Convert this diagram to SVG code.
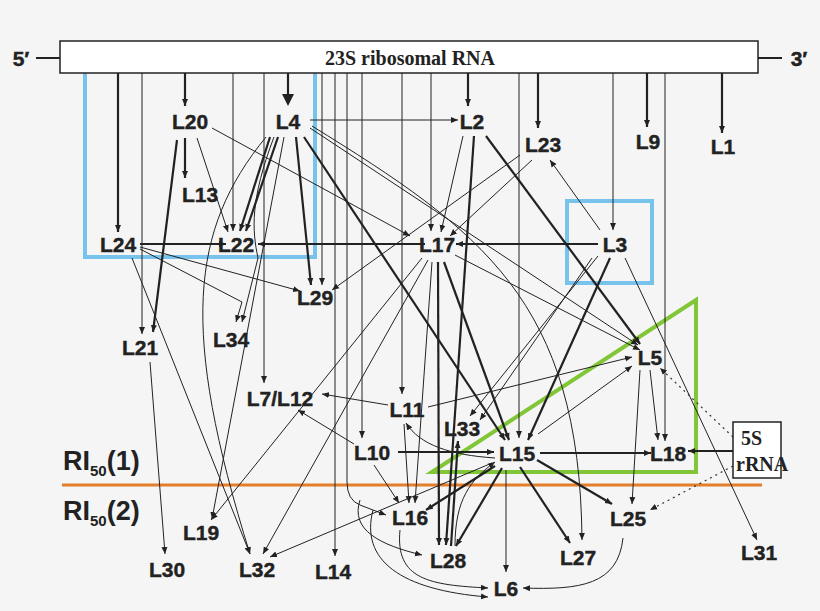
<svg xmlns="http://www.w3.org/2000/svg" width="820" height="611" viewBox="0 0 820 611">
<defs>
<marker id="a" markerWidth="8" markerHeight="8" refX="7" refY="4" orient="auto" markerUnits="userSpaceOnUse"><path d="M0,1 L7,4 L0,7 z" fill="#222"/></marker>
</defs>
<style>
text.n{font-family:"Liberation Sans",Arial,sans-serif;font-weight:bold;font-size:21px;fill:#222;text-anchor:middle;dominant-baseline:central;stroke:#222;stroke-width:0.4}
text.s{font-family:"Liberation Serif","Times New Roman",serif;font-weight:bold;font-size:20px;fill:#222}
.t{stroke:#222;stroke-width:1;fill:none;marker-end:url(#a)}
.k{stroke:#222;stroke-width:2.2;fill:none;marker-end:url(#a)}
.d{stroke:#333;stroke-width:1.2;stroke-dasharray:2 4;fill:none;marker-end:url(#a)}
</style>
<rect width="820" height="611" fill="#f5f5f5"/>
<g id="frames" fill="none">
<path d="M85,73 V257 H315 V73" stroke="#77c3ec" stroke-width="4"/>
<rect x="567" y="201" width="85" height="82" stroke="#77c3ec" stroke-width="4"/>
<path d="M432,472 L696,300 V472 Z" stroke="#80c636" stroke-width="4" stroke-linejoin="miter"/>
<line x1="62" y1="485" x2="762" y2="485" stroke="#e57e2a" stroke-width="3"/>
</g>
<g id="connectors">
<line class="k" x1="118" y1="73" x2="118" y2="232"/>
<line class="t" x1="142" y1="73" x2="142" y2="334"/>
<line class="k" x1="185" y1="73" x2="185" y2="106"/>
<line class="t" x1="233" y1="73" x2="233" y2="231"/>
<line class="t" x1="264" y1="73" x2="264" y2="383"/>
<line stroke="#222" stroke-width="2.2" x1="288" y1="73" x2="288" y2="95"/><path d="M282,94 L294,94 L288,106 z" fill="#222"/>
<line class="t" x1="322" y1="73" x2="322" y2="285"/>
<line class="t" x1="335" y1="73" x2="335" y2="556"/>
<path class="t" d="M347,73 V482 Q347,500 360,505 L386,515"/>
<line class="t" x1="362" y1="73" x2="362" y2="438"/>
<line class="t" x1="402" y1="73" x2="402" y2="394"/>
<line class="t" x1="431" y1="73" x2="431" y2="231"/>
<line class="k" x1="468" y1="73" x2="468" y2="106"/>
<line class="t" x1="519" y1="73" x2="519" y2="438"/>
<line class="k" x1="538" y1="73" x2="538" y2="128"/>
<line class="t" x1="613" y1="73" x2="613" y2="230"/>
<line class="k" x1="647" y1="73" x2="647" y2="127"/>
<line class="t" x1="665" y1="73" x2="665" y2="441"/>
<line class="k" x1="722" y1="73" x2="722" y2="133"/>
<line class="t" x1="310" y1="120" x2="458" y2="120" stroke-width="1.8"/>
<line class="k" x1="185" y1="138" x2="185" y2="178"/>
<line class="t" x1="197" y1="138" x2="228" y2="232"/>
<line class="k" x1="177" y1="140" x2="153" y2="332"/>
<line class="t" x1="212" y1="128" x2="410" y2="236"/>
<line class="k" x1="270" y1="137" x2="240" y2="231"/>
<line class="k" x1="278" y1="137" x2="246" y2="231"/>
<line class="k" x1="296" y1="137" x2="311" y2="285"/>
<line class="k" x1="304" y1="137" x2="505" y2="440"/>
<line class="t" x1="310" y1="128" x2="638" y2="345"/>
<line class="t" x1="284" y1="137" x2="212" y2="519"/>
<path class="t" d="M266,137 C190,230 180,330 250,554"/>
<path class="t" d="M274,137 C250,200 252,230 258,258 L242,322"/>
<path class="t" d="M312,126 C480,230 580,300 582,540"/>
<line class="k" x1="140" y1="244" x2="226" y2="244"/>
<line class="t" x1="140" y1="247" x2="300" y2="291"/>
<path class="t" d="M140,249 L242,302 L236,322"/>
<line class="t" x1="132" y1="258" x2="250" y2="554"/>
<line class="k" x1="425" y1="244" x2="258" y2="244"/>
<line class="k" x1="598" y1="244" x2="456" y2="244"/>
<line class="t" x1="463" y1="136" x2="441" y2="232"/>
<line class="k" x1="474" y1="136" x2="446" y2="545"/>
<line class="k" x1="486" y1="136" x2="640" y2="344"/>
<line class="t" x1="520" y1="155" x2="332" y2="290"/>
<line class="t" x1="532" y1="160" x2="450" y2="236"/>
<line class="t" x1="600" y1="230" x2="550" y2="160"/>
<line class="k" x1="610" y1="258" x2="528" y2="440"/>
<line class="t" x1="598" y1="256" x2="470" y2="416"/>
<line class="t" x1="592" y1="258" x2="480" y2="420"/>
<line class="t" x1="625" y1="258" x2="757" y2="540"/>
<line class="t" x1="422" y1="258" x2="211" y2="520"/>
<line class="t" x1="428" y1="260" x2="263" y2="554"/>
<line class="t" x1="432" y1="262" x2="415" y2="503"/>
<line class="k" x1="438" y1="262" x2="439" y2="545"/>
<line class="k" x1="444" y1="262" x2="509" y2="440"/>
<line class="t" x1="455" y1="255" x2="640" y2="350"/>
<line class="t" x1="388" y1="405" x2="322" y2="394"/>
<line class="t" x1="428" y1="407" x2="632" y2="357"/>
<line class="t" x1="404" y1="424" x2="409" y2="503"/>
<path class="t" d="M495,458 C450,455 420,445 406,423"/>
<line class="t" x1="354" y1="444" x2="298" y2="410"/>
<line class="k" x1="398" y1="452" x2="494" y2="452"/>
<line class="t" x1="374" y1="465" x2="399" y2="503"/>
<line class="k" x1="540" y1="453" x2="651" y2="453"/>
<line class="k" x1="495" y1="466" x2="426" y2="510"/>
<line class="k" x1="502" y1="468" x2="456" y2="546"/>
<line class="k" x1="520" y1="467" x2="570" y2="543"/>
<line class="k" x1="537" y1="460" x2="612" y2="504"/>
<line class="t" x1="506" y1="470" x2="506" y2="572"/>
<line class="t" x1="538" y1="434" x2="632" y2="366"/>
<line class="t" x1="492" y1="463" x2="270" y2="557"/>
<line class="k" x1="451" y1="546" x2="458" y2="441"/>
<path class="t" d="M455,546 C455,500 470,480 495,462"/>
<line class="t" x1="650" y1="370" x2="658" y2="440"/>
<line class="t" x1="640" y1="370" x2="632" y2="504"/>
<line class="k" x1="733" y1="451" x2="688" y2="451"/>
<line class="d" x1="733" y1="437" x2="660" y2="368"/>
<line class="d" x1="733" y1="466" x2="650" y2="510"/>
<path class="t" d="M623,538 C618,585 580,590 523,588"/>
<path class="t" d="M400,530 C395,580 430,585 488,588"/>
<path class="t" d="M360,500 C350,530 380,545 422,555"/>
<path class="t" d="M373,510 C360,560 400,590 488,597"/>
<line class="t" x1="150" y1="362" x2="165" y2="554"/>
</g>
<g id="rna"><line x1="36" y1="58" x2="60" y2="58" stroke="#222" stroke-width="2"/><line x1="758" y1="58" x2="782" y2="58" stroke="#222" stroke-width="2"/>
<rect x="60" y="41" width="698" height="32" fill="#fff" stroke="#222" stroke-width="1.5"/>
<text class="s" x="410" y="65" text-anchor="middle" style="font-size:20px">23S ribosomal RNA</text>
<text class="n" x="21" y="58">5′</text><text class="n" x="799" y="58">3′</text></g>
<g id="nodes">
<g id="L20"><text class="n" x="190" y="121">L20</text></g>
<g id="L4"><text class="n" x="288" y="121">L4</text></g>
<g id="L2"><text class="n" x="472" y="121">L2</text></g>
<g id="L23"><text class="n" x="543" y="144">L23</text></g>
<g id="L9"><text class="n" x="648" y="141">L9</text></g>
<g id="L1"><text class="n" x="723" y="146">L1</text></g>
<g id="L13"><text class="n" x="200" y="194">L13</text></g>
<g id="L24"><text class="n" x="118" y="244">L24</text></g>
<g id="L22"><text class="n" x="236" y="244">L22</text></g>
<g id="L17"><text class="n" x="437" y="244">L17</text></g>
<g id="L3"><text class="n" x="615" y="244">L3</text></g>
<g id="L29"><text class="n" x="315" y="297">L29</text></g>
<g id="L21"><text class="n" x="140" y="347">L21</text></g>
<g id="L34"><text class="n" x="231" y="339">L34</text></g>
<g id="L7L12"><text class="n" x="280" y="398">L7/L12</text></g>
<g id="L11"><text class="n" x="407" y="409">L11</text></g>
<g id="L5"><text class="n" x="650" y="357">L5</text></g>
<g id="L33"><text class="n" x="462" y="428">L33</text></g>
<g id="L15"><text class="n" x="517" y="453">L15</text></g>
<g id="L18"><text class="n" x="668" y="453">L18</text></g>
<g id="L10"><text class="n" x="372" y="452">L10</text></g>
<g id="L16"><text class="n" x="410" y="517">L16</text></g>
<g id="L25"><text class="n" x="628" y="518">L25</text></g>
<g id="L19"><text class="n" x="201" y="532">L19</text></g>
<g id="L30"><text class="n" x="167" y="569">L30</text></g>
<g id="L32"><text class="n" x="257" y="569">L32</text></g>
<g id="L14"><text class="n" x="333" y="571">L14</text></g>
<g id="L28"><text class="n" x="448" y="560">L28</text></g>
<g id="L27"><text class="n" x="578" y="557">L27</text></g>
<g id="L6"><text class="n" x="506" y="588">L6</text></g>
<g id="L31"><text class="n" x="759" y="552">L31</text></g>
<g id="S5"><rect x="733" y="422" width="48" height="56" fill="#fff" stroke="#222" stroke-width="1.5"/>
<text class="s" x="741" y="445" style="font-size:20px">5S</text><text class="s" x="736" y="471" style="font-size:20px">rRNA</text></g>
<g id="RI"><text x="63" y="470" style="font-family:'Liberation Sans',Arial,sans-serif;font-weight:bold;font-size:27px" fill="#222">RI<tspan style="font-size:15px" dy="6">50</tspan><tspan dy="-6">(1)</tspan></text>
<text x="63" y="520" style="font-family:'Liberation Sans',Arial,sans-serif;font-weight:bold;font-size:27px" fill="#222">RI<tspan style="font-size:15px" dy="6">50</tspan><tspan dy="-6">(2)</tspan></text></g>
</g>
</svg>
